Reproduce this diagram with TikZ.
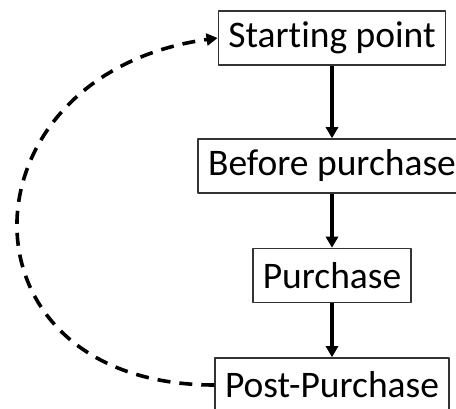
\documentclass[tikz,border=0pt]{standalone}
\usepackage{fontspec}
\setmainfont{Carlito}[Ligatures=CommonOff]
\usetikzlibrary{arrows.meta}
\begin{document}
\begin{tikzpicture}[x=1pt,y=1pt,font=\fontsize{37.5}{45}\selectfont,line join=round,
	stage/.style={draw=black!80,line width=1.5pt,minimum height=54pt,inner xsep=10pt,inner ysep=0pt},
	flow/.style={line width=3.2pt,-{Triangle[length=11pt,width=12pt]}},
	back/.style={line width=3.6pt,dash pattern=on 13pt off 9pt,-{Triangle[length=11pt,width=12pt]}}]
	\useasboundingbox (0,0) rectangle (456,409);
	\clip (0,0) rectangle (456,409);
	\node[stage] (start) at (332,371) {Starting point};
	\node[stage] (before) at (332,243) {Before purchase};
	\node[stage] (purch) at (332,133.5) {Purchase};
	\node[stage] (post) at (332,24) {Post-Purchase};
	\draw[flow] (start) -- (before);
	\draw[flow] (before) -- (purch);
	\draw[flow] (purch) -- (post);
	\draw[back] (post.west) to[out=180,in=188,looseness=1.95] (start.west);
\end{tikzpicture}
\end{document}
